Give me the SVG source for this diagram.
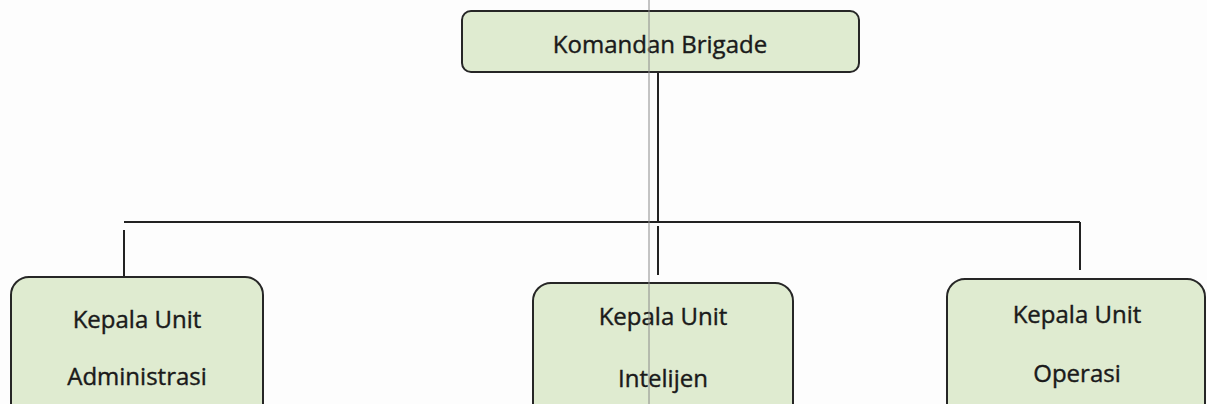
<svg xmlns="http://www.w3.org/2000/svg" width="1207" height="404" viewBox="0 0 1207 404">
<style>
.box{fill:#dfebd0;stroke:#262626;stroke-width:2}
.lbl{font-family:"Open Sans","Noto Sans",sans-serif;font-size:24px;fill:#1a1a1a;stroke:#1a1a1a;stroke-width:0.4;text-anchor:middle}
.con{stroke:#222;stroke-width:2;fill:none}
</style>
<rect width="1207" height="404" fill="#fdfdfd"/>
<g id="connectors">
<path class="con" d="M658 72 V222"/>
<path class="con" d="M124 222 H1080"/>
<path class="con" d="M124 230 V277"/>
<path class="con" d="M658 226 V275"/>
<path class="con" d="M1080 222 V270"/>
</g>
<g id="komandan">
<rect class="box" x="462" y="11" width="397" height="61" rx="9"/>
<text class="lbl" x="660" y="53">Komandan Brigade</text>
</g>
<g id="administrasi">
<rect class="box" x="11" y="277" width="252" height="150" rx="18"/>
<text class="lbl" x="137" y="328">Kepala Unit</text>
<text class="lbl" x="137" y="385">Administrasi</text>
</g>
<g id="intelijen">
<rect class="box" x="533" y="283" width="260" height="150" rx="18"/>
<text class="lbl" x="663" y="325">Kepala Unit</text>
<text class="lbl" x="663" y="387">Intelijen</text>
</g>
<g id="operasi">
<rect class="box" x="947" y="279" width="258" height="150" rx="18"/>
<text class="lbl" x="1077" y="323">Kepala Unit</text>
<text class="lbl" x="1077" y="382">Operasi</text>
</g>
<line x1="649" y1="0" x2="649" y2="404" stroke="#8a8a8a" stroke-width="1"/>
</svg>
